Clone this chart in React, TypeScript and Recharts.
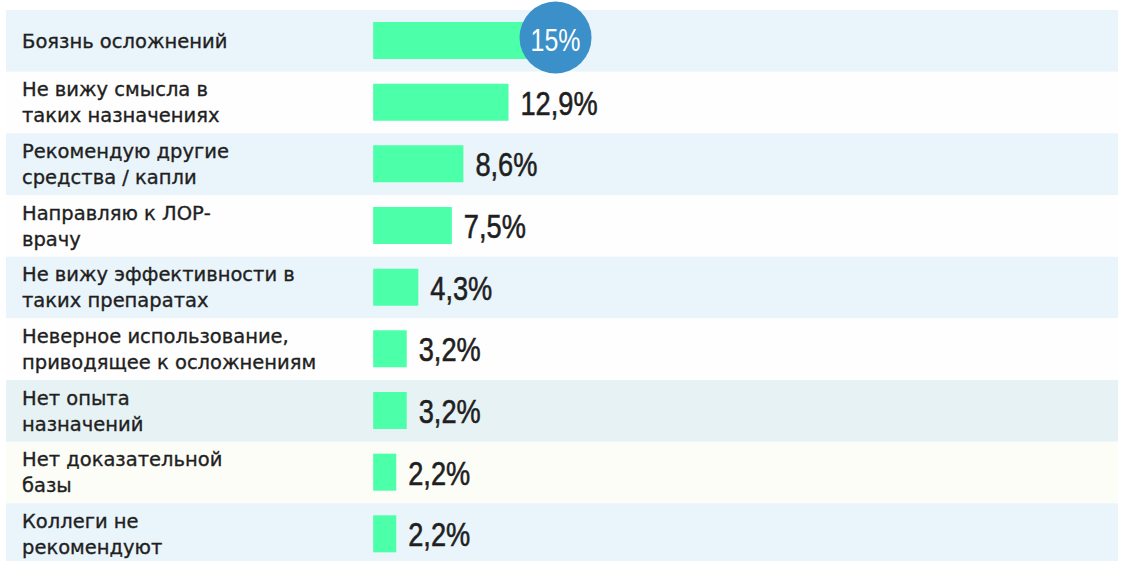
import React from 'react';
import {
  BarChart,
  Bar,
  XAxis,
  YAxis,
  ReferenceArea,
  LabelList,
} from 'recharts';

// Reasons, in the order shown (top to bottom)
const REASONS: string[] = [
  'Боязнь осложнений',
  'Не вижу смысла в\nтаких назначениях',
  'Рекомендую другие\nсредства / капли',
  'Направляю к ЛОР-\nврачу',
  'Не вижу эффективности в\nтаких препаратах',
  'Неверное использование,\nприводящее к осложнениям',
  'Нет опыта\nназначений',
  'Нет доказательной\nбазы',
  'Коллеги не\nрекомендуют',
];

// Share of respondents, %
const SHARES: number[] = [15, 12.9, 8.6, 7.5, 4.3, 3.2, 3.2, 2.2, 2.2];

const data = REASONS.map((reason, i) => ({ reason, share: SHARES[i] }));

// row stripe colours
const BLUE = '#e9f4fb';
const WHITE = '#fefefe';
const ROW_FILLS = [BLUE, WHITE, BLUE, WHITE, BLUE, WHITE, '#e7f2f5', '#fcfdf6', BLUE];

const BAR_COLOR = '#4cffa9';
const TEXT = '#1f1f1f';
const LABEL_FONT = '"DejaVu Sans", sans-serif';
const VALUE_FONT = '"Liberation Sans", Arial, sans-serif';

const fmt = (v: number) => `${String(v).replace('.', ',')}%`;

// category text, drawn at the left edge of each row
function ReasonLabel(props: any) {
  const { y, height, value } = props;
  const lines: string[] = String(value).split('\n');
  const lh = 26;
  const top = y + height / 2 - ((lines.length - 1) * lh) / 2;
  return (
    <text
      x={22}
      y={top}
      fill={TEXT}
      stroke={TEXT}
      strokeWidth={0.35}
      fontFamily={LABEL_FONT}
      fontSize={19.5}
      textAnchor="start"
      dominantBaseline="central"
    >
      {lines.map((l, i) => (
        <tspan key={i} x={22} y={top + i * lh}>
          {l}
        </tspan>
      ))}
    </text>
  );
}

function ValueLabel(props: any) {
  const { x, y, width, height, value, index } = props;
  const end = x + width;
  const cy = y + height / 2;
  if (index === 0) {
    // the leading answer gets a highlighted badge
    return (
      <g>
        <circle cx={end + 25} cy={cy - 3} r={36} fill="#3c90ca" />
        <text
          transform={`translate(${end + 25} ${cy - 1}) scale(0.78 1)`}
          x={0}
          y={0}
          fill="#ffffff"
          fontFamily={VALUE_FONT}
          fontSize={32}
          textAnchor="middle"
          dominantBaseline="central"
        >
          {fmt(value)}
        </text>
      </g>
    );
  }
  return (
    <text
      transform={`translate(${end + 12} ${cy + 1}) scale(0.8 1)`}
      x={0}
      y={0}
      fill={TEXT}
      stroke={TEXT}
      strokeWidth={0.6}
      fontFamily={VALUE_FONT}
      fontSize={34}
      textAnchor="start"
      dominantBaseline="central"
    >
      {fmt(value)}
    </text>
  );
}

export default function App() {
  return (
    <div
      style={{
        position: 'absolute',
        left: 0,
        top: 0,
        width: 1132,
        height: 561,
        overflow: 'hidden',
        background: '#ffffff',
      }}
    >
      <BarChart
        width={1132}
        height={565}
        data={data}
        layout="vertical"
        margin={{ top: 10, right: 14, left: 6, bottom: 0 }}
      >
        <XAxis type="number" domain={[-35, 71]} hide />
        <YAxis type="category" dataKey="reason" width={0} hide />
        {REASONS.map((r, i) => (
          <ReferenceArea
            key={i}
            y1={r}
            y2={r}
            fill={ROW_FILLS[i]}
            fillOpacity={1}
            stroke="none"
            ifOverflow="visible"
          />
        ))}
        <Bar dataKey="share" fill={BAR_COLOR} barSize={37} isAnimationActive={false}>
          <LabelList dataKey="reason" content={<ReasonLabel />} />
          <LabelList dataKey="share" content={<ValueLabel />} />
        </Bar>
      </BarChart>
    </div>
  );
}
